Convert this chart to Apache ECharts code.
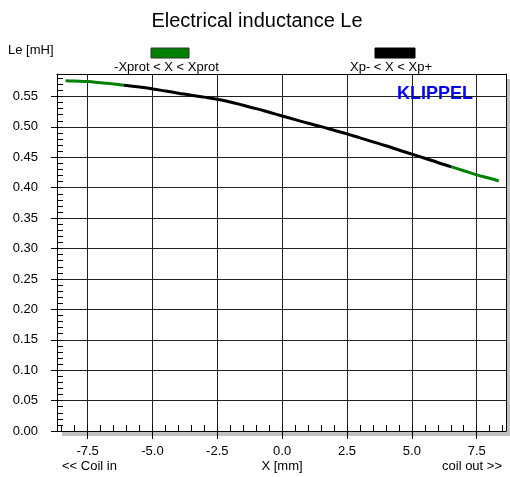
<!DOCTYPE html>
<html>
<head>
<meta charset="utf-8">
<script src="https://cdn.jsdelivr.net/npm/echarts@6/dist/echarts.min.js"></script>
<style>
html,body{margin:0;padding:0;background:#fff;}
#chart{width:510px;height:477px;}
</style>
</head>
<body>
<div id="chart"></div>
<script>
// ---- data ----
var xValues  = [-8.35, -8.0, -7.5, -7.0, -6.5, -6.1, -5.5, -5.0, -4.5, -4.0, -3.5, -3.0, -2.5, -2.0, -1.5, -1.0, -0.5, 0.0, 0.5, 1.0, 1.5, 2.0, 2.5, 3.0, 3.5, 4.0, 4.5, 5.0, 5.5, 6.0, 6.5, 7.0, 7.5, 8.0, 8.35];
var leValues = [0.5760, 0.5755, 0.5745, 0.5725, 0.5705, 0.5685, 0.5655, 0.5625, 0.5590, 0.5555, 0.5520, 0.5490, 0.5455, 0.5410, 0.5355, 0.5300, 0.5240, 0.5180, 0.5120, 0.5060, 0.5005, 0.4945, 0.4885, 0.4820, 0.4755, 0.4690, 0.4620, 0.4553, 0.4485, 0.4415, 0.4348, 0.4280, 0.4212, 0.4155, 0.4110];
var xprotLimits = [-6.1, 6.5];   // green outside, black inside
var xMajorTicks = [-7.5, -5.0, -2.5, 0.0, 2.5, 5.0, 7.5];
var xMinorTicks = [-8.5, -8.0, -7.5, -7.0, -6.5, -6.0, -5.5, -5.0, -4.5, -4.0, -3.5, -3.0, -2.5, -2.0, -1.5, -1.0, -0.5, 0.0, 0.5, 1.0, 1.5, 2.0, 2.5, 3.0, 3.5, 4.0, 4.5, 5.0, 5.5, 6.0, 6.5, 7.0, 7.5, 8.0, 8.5];
var yMajorTicks = [0.00, 0.05, 0.10, 0.15, 0.20, 0.25, 0.30, 0.35, 0.40, 0.45, 0.50, 0.55];
var yMinorTicks = [];
for (var i = 0; i <= 58; i++) { yMinorTicks.push(Math.round(i * 10) / 1000); }
var titleText = 'Electrical inductance Le';
var yName = 'Le [mH]';
var xName = 'X [mm]';
var leftNote = '<< Coil in';
var rightNote = 'coil out >>';
var legendGreen = '-Xprot < X < Xprot';
var legendBlack = 'Xp- < X < Xp+';

var seriesData = xValues.map(function (x, i) { return [x, leValues[i]]; });

var FONT = 'Arial, "Liberation Sans", Helvetica, sans-serif';
var GREEN = '#008000';
var xMin = -8.68, xMax = 8.63, yMin = 0, yMax = 0.587;

function frameAxis(pos) {
  return {
    type: 'value', min: (pos === 'top' ? xMin : yMin), max: (pos === 'top' ? xMax : yMax), position: pos,
    axisLine: {show: true, onZero: false, lineStyle: {color: '#000', width: 1}},
    axisTick: {show: false}, axisLabel: {show: false}, splitLine: {show: false}
  };
}

var chart = echarts.init(document.getElementById('chart'), null, {renderer: 'canvas'});
chart.setOption({
  animation: false,
  backgroundColor: '#fff',
  title: {
    text: titleText, left: 252, top: 6, textAlign: 'center',
    textStyle: {fontFamily: FONT, fontSize: 20, fontWeight: 'normal', color: '#000'}
  },
  grid: {
    left: 57, top: 74, right: 4, bottom: 46, containLabel: false,
    show: true, backgroundColor: '#fff', borderColor: 'transparent', borderWidth: 0,
    shadowColor: '#c0c0c0', shadowOffsetX: 5, shadowOffsetY: 5, shadowBlur: 0
  },
  visualMap: {
    show: false, type: 'piecewise', dimension: 0, seriesIndex: 0,
    pieces: [
      {lt: xprotLimits[0], color: GREEN},
      {gte: xprotLimits[0], lte: xprotLimits[1], color: '#000'},
      {gt: xprotLimits[1], color: GREEN}
    ]
  },
  xAxis: [{
    type: 'value', min: xMin, max: xMax, position: 'bottom',
    axisLine: {show: true, onZero: false, lineStyle: {color: '#000', width: 1}},
    axisTick: {show: true, inside: false, length: 8, customValues: xMajorTicks, lineStyle: {color: '#000'}},
    axisLabel: {show: true, customValues: xMajorTicks, margin: 14, fontFamily: FONT, fontSize: 13, color: '#000',
      formatter: function (v) { return v.toFixed(1); }},
    splitLine: {show: true, lineStyle: {color: '#222', width: 1}},
    minorTick: {show: false}
  }, {
    type: 'value', min: xMin, max: xMax, position: 'bottom',
    axisLine: {show: false, onZero: false},
    axisTick: {show: true, inside: true, length: 6, customValues: xMinorTicks, lineStyle: {color: '#000'}},
    axisLabel: {show: false},
    splitLine: {show: false}
  }, frameAxis('top')],
  yAxis: [{
    type: 'value', min: yMin, max: yMax, position: 'left',
    axisLine: {show: true, onZero: false, lineStyle: {color: '#000', width: 1}},
    axisTick: {show: true, inside: false, length: 6, customValues: yMajorTicks, lineStyle: {color: '#000'}},
    axisLabel: {show: true, customValues: yMajorTicks, margin: 19, fontFamily: FONT, fontSize: 13, color: '#000',
      formatter: function (v) { return v.toFixed(2); }},
    splitLine: {show: true, lineStyle: {color: '#222', width: 1}}
  }, {
    type: 'value', min: yMin, max: yMax, position: 'left',
    axisLine: {show: false, onZero: false},
    axisTick: {show: true, inside: true, length: 6, customValues: yMinorTicks, lineStyle: {color: '#000'}},
    axisLabel: {show: false},
    splitLine: {show: false}
  }, frameAxis('right')],
  series: [{
    type: 'line', xAxisIndex: 0, yAxisIndex: 0, data: seriesData,
    symbol: 'none', smooth: true, lineStyle: {width: 3}, z: 5
  }],
  graphic: [
    {type: 'text', left: 8, top: 44, style: {text: yName, font: '13px ' + FONT, fill: '#000'}},
    {type: 'rect', shape: {x: 151, y: 48, width: 38, height: 10}, style: {fill: GREEN, stroke: '#333', lineWidth: 1}},
    {type: 'text', x: 166.5, y: 67, style: {text: legendGreen, font: '13px ' + FONT, fill: '#000', align: 'center', verticalAlign: 'middle'}},
    {type: 'rect', shape: {x: 375, y: 48, width: 40, height: 10}, style: {fill: '#000', stroke: '#000', lineWidth: 1}},
    {type: 'text', x: 391, y: 67, style: {text: legendBlack, font: '13px ' + FONT, fill: '#000', align: 'center', verticalAlign: 'middle'}},
    {type: 'text', x: 435, y: 94, z: 10, style: {text: 'KLIPPEL', font: 'bold 18px ' + FONT, fill: '#0000FF', align: 'center', verticalAlign: 'middle'}},
    {type: 'text', x: 62, y: 466, style: {text: leftNote, font: '13px ' + FONT, fill: '#000', align: 'left', verticalAlign: 'middle'}},
    {type: 'text', x: 282, y: 466, style: {text: xName, font: '13px ' + FONT, fill: '#000', align: 'center', verticalAlign: 'middle'}},
    {type: 'text', x: 502, y: 466, style: {text: rightNote, font: '13px ' + FONT, fill: '#000', align: 'right', verticalAlign: 'middle'}}
  ]
});
</script>
</body>
</html>
